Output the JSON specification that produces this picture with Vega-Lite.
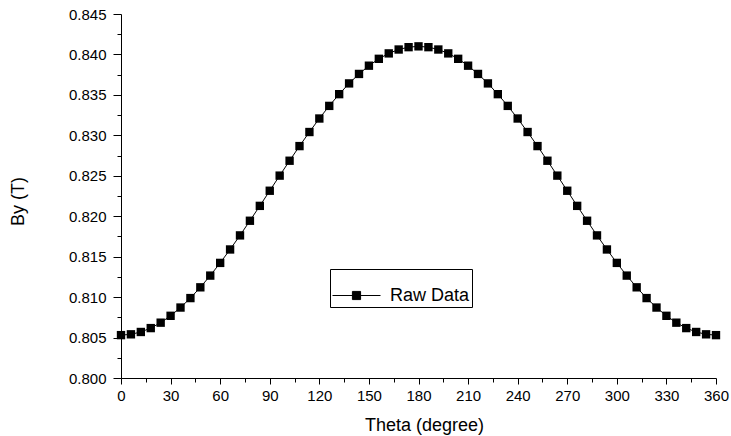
{
  "$schema": "https://vega.github.io/schema/vega-lite/v6.json",
  "autosize": "none",
  "width": 595,
  "height": 364,
  "padding": {"left": 121, "top": 14, "right": 15, "bottom": 58},
  "background": "white",
  "config": {
    "view": {"stroke": null},
    "font": "Liberation Sans",
    "axis": {
      "grid": false,
      "domainColor": "black",
      "domainWidth": 1,
      "tickColor": "black",
      "tickWidth": 1,
      "labelColor": "black",
      "labelFont": "Liberation Sans",
      "titleFont": "Liberation Sans",
      "titleColor": "black",
      "titleFontWeight": "normal",
      "labelFontSize": 15,
      "titleFontSize": 18
    }
  },
  "data": {"values": [
    {"theta": 0, "by": 0.80530, "series": "Raw Data"},
    {"theta": 6, "by": 0.80540, "series": "Raw Data"},
    {"theta": 12, "by": 0.80569, "series": "Raw Data"},
    {"theta": 18, "by": 0.80617, "series": "Raw Data"},
    {"theta": 24, "by": 0.80684, "series": "Raw Data"},
    {"theta": 30, "by": 0.80769, "series": "Raw Data"},
    {"theta": 36, "by": 0.80871, "series": "Raw Data"},
    {"theta": 42, "by": 0.80988, "series": "Raw Data"},
    {"theta": 48, "by": 0.81121, "series": "Raw Data"},
    {"theta": 54, "by": 0.81266, "series": "Raw Data"},
    {"theta": 60, "by": 0.81423, "series": "Raw Data"},
    {"theta": 66, "by": 0.81589, "series": "Raw Data"},
    {"theta": 72, "by": 0.81763, "series": "Raw Data"},
    {"theta": 78, "by": 0.81944, "series": "Raw Data"},
    {"theta": 84, "by": 0.82128, "series": "Raw Data"},
    {"theta": 90, "by": 0.82315, "series": "Raw Data"},
    {"theta": 96, "by": 0.82502, "series": "Raw Data"},
    {"theta": 102, "by": 0.82686, "series": "Raw Data"},
    {"theta": 108, "by": 0.82867, "series": "Raw Data"},
    {"theta": 114, "by": 0.83041, "series": "Raw Data"},
    {"theta": 120, "by": 0.83208, "series": "Raw Data"},
    {"theta": 126, "by": 0.83364, "series": "Raw Data"},
    {"theta": 132, "by": 0.83509, "series": "Raw Data"},
    {"theta": 138, "by": 0.83642, "series": "Raw Data"},
    {"theta": 144, "by": 0.83759, "series": "Raw Data"},
    {"theta": 150, "by": 0.83861, "series": "Raw Data"},
    {"theta": 156, "by": 0.83946, "series": "Raw Data"},
    {"theta": 162, "by": 0.84013, "series": "Raw Data"},
    {"theta": 168, "by": 0.84061, "series": "Raw Data"},
    {"theta": 174, "by": 0.84090, "series": "Raw Data"},
    {"theta": 180, "by": 0.84100, "series": "Raw Data"},
    {"theta": 186, "by": 0.84090, "series": "Raw Data"},
    {"theta": 192, "by": 0.84061, "series": "Raw Data"},
    {"theta": 198, "by": 0.84013, "series": "Raw Data"},
    {"theta": 204, "by": 0.83946, "series": "Raw Data"},
    {"theta": 210, "by": 0.83861, "series": "Raw Data"},
    {"theta": 216, "by": 0.83759, "series": "Raw Data"},
    {"theta": 222, "by": 0.83642, "series": "Raw Data"},
    {"theta": 228, "by": 0.83509, "series": "Raw Data"},
    {"theta": 234, "by": 0.83364, "series": "Raw Data"},
    {"theta": 240, "by": 0.83208, "series": "Raw Data"},
    {"theta": 246, "by": 0.83041, "series": "Raw Data"},
    {"theta": 252, "by": 0.82867, "series": "Raw Data"},
    {"theta": 258, "by": 0.82686, "series": "Raw Data"},
    {"theta": 264, "by": 0.82502, "series": "Raw Data"},
    {"theta": 270, "by": 0.82315, "series": "Raw Data"},
    {"theta": 276, "by": 0.82128, "series": "Raw Data"},
    {"theta": 282, "by": 0.81944, "series": "Raw Data"},
    {"theta": 288, "by": 0.81763, "series": "Raw Data"},
    {"theta": 294, "by": 0.81589, "series": "Raw Data"},
    {"theta": 300, "by": 0.81423, "series": "Raw Data"},
    {"theta": 306, "by": 0.81266, "series": "Raw Data"},
    {"theta": 312, "by": 0.81121, "series": "Raw Data"},
    {"theta": 318, "by": 0.80988, "series": "Raw Data"},
    {"theta": 324, "by": 0.80871, "series": "Raw Data"},
    {"theta": 330, "by": 0.80769, "series": "Raw Data"},
    {"theta": 336, "by": 0.80684, "series": "Raw Data"},
    {"theta": 342, "by": 0.80617, "series": "Raw Data"},
    {"theta": 348, "by": 0.80569, "series": "Raw Data"},
    {"theta": 354, "by": 0.80540, "series": "Raw Data"},
    {"theta": 360, "by": 0.80530, "series": "Raw Data"}
  ]},
  "layer": [
    {
      "mark": {"type": "line", "color": "black", "strokeWidth": 1},
      "encoding": {
        "x": {"field": "theta", "type": "quantitative",
          "scale": {"domain": [0, 360], "nice": false, "zero": false},
          "axis": {"values": [0,30,60,90,120,150,180,210,240,270,300,330,360],
            "tickSize": 6, "labelPadding": 4, "labelFlush": false, "labelOverlap": false,
            "title": "Theta (degree)", "titleX": 303, "titleY": 47, "titleBaseline": "middle", "titleAlign": "center"}},
        "y": {"field": "by", "type": "quantitative",
          "scale": {"domain": [0.8, 0.845], "nice": false, "zero": false},
          "axis": {"values": [0.8,0.805,0.81,0.815,0.82,0.825,0.83,0.835,0.84,0.845],
            "format": ".3f", "tickSize": 8, "labelPadding": 7, "labelFlush": false, "labelOverlap": false,
            "title": "By (T)", "titleX": -103, "titleY": 187, "titleAngle": -90, "titleBaseline": "middle", "titleAlign": "center"}}
      }
    },
    {
      "mark": {"type": "point", "shape": "square", "filled": true, "size": 70, "opacity": 1},
      "encoding": {
        "x": {"field": "theta", "type": "quantitative", "axis": null},
        "y": {"field": "by", "type": "quantitative", "axis": null},
        "color": {"field": "series", "type": "nominal", "scale": {"range": ["black"]},
          "legend": {"title": null, "orient": "none", "legendX": 209, "legendY": 255,
            "padding": 2, "strokeColor": "black", "fillColor": "white",
            "symbolType": "M-1,0L1,0M-0.17,-0.17L0.17,-0.17L0.17,0.17L-0.17,0.17Z",
            "symbolSize": 2304, "symbolFillColor": "black", "symbolStrokeColor": "black", "symbolStrokeWidth": 1,
            "symbolOpacity": 1,
            "labelFont": "Liberation Sans", "labelFontSize": 18, "labelColor": "black", "labelOffset": 9,
            "labelLimit": 300}}
      }
    },
    {
      "mark": {"type": "point", "opacity": 0},
      "encoding": {
        "x": {"field": "theta", "type": "quantitative",
          "axis": {"orient": "bottom", "values": [15,45,75,105,135,165,195,225,255,285,315,345],
            "tickSize": 4, "labels": false, "domain": false, "title": null}},
        "y": {"field": "by", "type": "quantitative",
          "axis": {"orient": "left", "values": [0.8025,0.8075,0.8125,0.8175,0.8225,0.8275,0.8325,0.8375,0.8425],
            "tickSize": 4, "labels": false, "domain": false, "title": null}}
      }
    }
  ],
  "resolve": {"axis": {"x": "independent", "y": "independent"}}
}
